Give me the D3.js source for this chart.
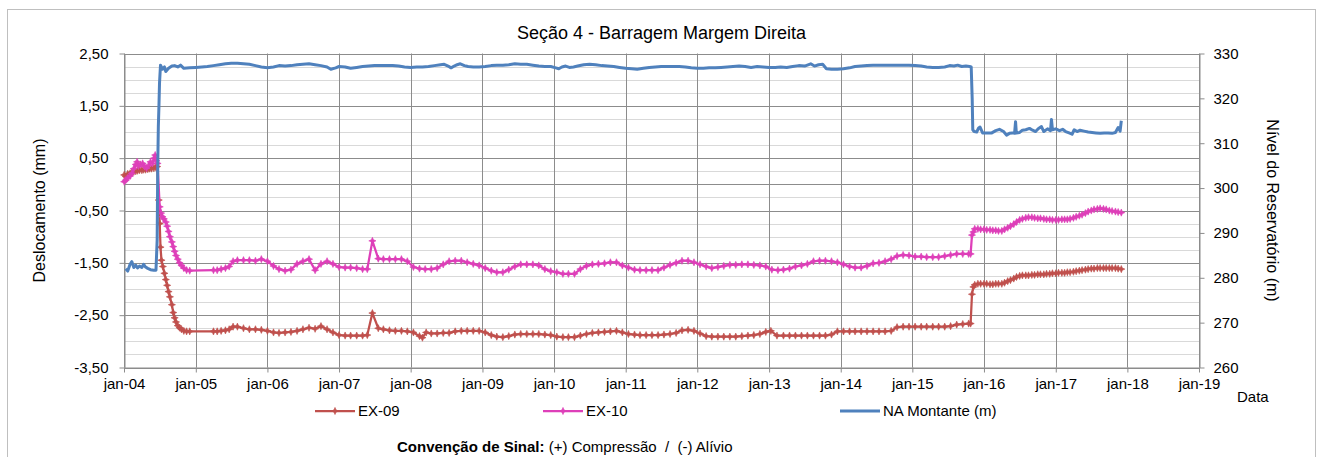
<!DOCTYPE html>
<html>
<head>
<meta charset="utf-8">
<script src="https://cdn.jsdelivr.net/npm/d3@7"></script>
<style>
  html, body { margin: 0; padding: 0; background: #fff; }
  svg { display: block; font-family: "Liberation Sans", Arial, sans-serif; }
</style>
</head>
<body>
<svg id="chart" width="1319" height="457"></svg>
<script>
// ---- Data -------------------------------------------------------------
// Extensometer EX-09 readings (mm)
const ex09 = [
  ["2004-01-02",0.18],["2004-01-10",0.15],["2004-01-20",0.20],["2004-02-01",0.21],["2004-02-10",0.23],
  ["2004-02-20",0.24],["2004-03-01",0.25],["2004-03-10",0.26],["2004-03-20",0.27],["2004-04-01",0.27],
  ["2004-04-10",0.28],["2004-04-20",0.28],["2004-05-01",0.29],["2004-05-10",0.30],["2004-05-20",0.30],
  ["2004-06-01",0.31],["2004-06-10",0.33],["2004-06-18",0.34],["2004-06-26",-0.30],["2004-07-01",-0.75],
  ["2004-07-05",-1.20],["2004-07-10",-1.45],["2004-07-17",-1.57],["2004-07-25",-1.70],["2004-08-01",-1.82],
  ["2004-08-08",-1.93],["2004-08-15",-2.05],["2004-08-22",-2.15],["2004-09-01",-2.30],["2004-09-08",-2.45],
  ["2004-09-15",-2.55],["2004-09-22",-2.63],["2004-10-01",-2.70],["2004-10-10",-2.74],["2004-10-20",-2.77],
  ["2004-11-01",-2.80],["2004-11-15",-2.81],["2004-12-01",-2.81],
  ["2005-04-01",-2.81],["2005-04-20",-2.81],["2005-05-10",-2.80],["2005-06-01",-2.79],["2005-06-20",-2.77],
  ["2005-07-10",-2.72],["2005-08-01",-2.72],["2005-09-01",-2.75],["2005-10-01",-2.77],["2005-11-01",-2.77],
  ["2005-12-01",-2.78],["2006-01-01",-2.80],["2006-02-01",-2.83],["2006-03-01",-2.84],["2006-04-01",-2.83],
  ["2006-05-01",-2.82],["2006-06-01",-2.80],["2006-07-01",-2.77],["2006-08-01",-2.74],["2006-09-01",-2.76],
  ["2006-10-01",-2.71],["2006-11-01",-2.77],["2006-12-01",-2.83],["2007-01-01",-2.88],["2007-02-01",-2.89],
  ["2007-03-01",-2.89],["2007-04-01",-2.89],["2007-05-01",-2.89],["2007-05-25",-2.88],["2007-06-20",-2.46],
  ["2007-07-20",-2.75],["2007-08-15",-2.77],["2007-09-15",-2.79],["2007-10-15",-2.80],["2007-11-15",-2.80],
  ["2007-12-15",-2.81],["2008-01-15",-2.83],["2008-02-15",-2.90],["2008-03-01",-2.93],["2008-03-20",-2.83],
  ["2008-04-15",-2.85],["2008-05-15",-2.85],["2008-06-15",-2.84],["2008-07-15",-2.84],["2008-08-15",-2.81],
  ["2008-09-15",-2.80],["2008-10-15",-2.80],["2008-11-15",-2.80],["2008-12-15",-2.80],["2009-01-15",-2.83],
  ["2009-02-15",-2.88],["2009-03-15",-2.91],["2009-04-15",-2.92],["2009-05-15",-2.90],["2009-06-15",-2.87],
  ["2009-07-15",-2.86],["2009-08-15",-2.86],["2009-09-15",-2.86],["2009-10-15",-2.86],["2009-11-15",-2.87],
  ["2009-12-15",-2.88],["2010-01-15",-2.91],["2010-02-15",-2.92],["2010-03-15",-2.92],["2010-04-15",-2.92],
  ["2010-05-15",-2.89],["2010-06-15",-2.86],["2010-07-15",-2.84],["2010-08-15",-2.83],["2010-09-15",-2.82],
  ["2010-10-15",-2.81],["2010-11-15",-2.80],["2010-12-15",-2.83],["2011-01-15",-2.86],["2011-02-15",-2.87],
  ["2011-03-15",-2.88],["2011-04-15",-2.88],["2011-05-15",-2.88],["2011-06-15",-2.88],["2011-07-15",-2.87],
  ["2011-08-15",-2.86],["2011-09-15",-2.84],["2011-10-15",-2.79],["2011-11-15",-2.78],["2011-12-15",-2.80],
  ["2012-01-15",-2.85],["2012-02-15",-2.90],["2012-03-15",-2.91],["2012-04-15",-2.91],["2012-05-15",-2.91],
  ["2012-06-15",-2.91],["2012-07-15",-2.91],["2012-08-15",-2.90],["2012-09-15",-2.89],["2012-10-15",-2.88],
  ["2012-11-15",-2.86],["2012-12-15",-2.82],["2013-01-10",-2.80],["2013-02-10",-2.89],["2013-03-15",-2.89],
  ["2013-04-15",-2.89],["2013-05-15",-2.89],["2013-06-15",-2.89],["2013-07-15",-2.89],["2013-08-15",-2.89],
  ["2013-09-15",-2.89],["2013-10-15",-2.89],["2013-11-15",-2.87],["2013-12-15",-2.81],["2014-01-15",-2.81],
  ["2014-02-15",-2.81],["2014-03-15",-2.81],["2014-04-15",-2.81],["2014-05-15",-2.81],["2014-06-15",-2.81],
  ["2014-07-15",-2.81],["2014-08-15",-2.81],["2014-09-15",-2.80],["2014-10-15",-2.73],["2014-11-15",-2.72],
  ["2014-12-15",-2.72],["2015-01-15",-2.72],["2015-02-15",-2.72],["2015-03-15",-2.72],["2015-04-15",-2.72],
  ["2015-05-15",-2.72],["2015-06-15",-2.72],["2015-07-15",-2.71],["2015-08-15",-2.68],["2015-09-15",-2.67],
  ["2015-10-15",-2.66],["2015-10-25",-2.66],["2015-11-01",-2.10],["2015-11-08",-1.96],["2015-11-15",-1.92],
  ["2015-12-01",-1.90],["2015-12-15",-1.90],["2016-01-01",-1.90],["2016-01-15",-1.90],["2016-02-01",-1.91],
  ["2016-02-15",-1.91],["2016-03-01",-1.90],["2016-03-15",-1.90],["2016-04-01",-1.90],["2016-04-15",-1.88],
  ["2016-05-01",-1.85],["2016-05-15",-1.83],["2016-06-01",-1.80],["2016-06-15",-1.77],["2016-07-01",-1.75],
  ["2016-07-15",-1.74],["2016-08-01",-1.74],["2016-08-15",-1.74],["2016-09-01",-1.73],["2016-09-15",-1.73],
  ["2016-10-01",-1.72],["2016-10-15",-1.72],["2016-11-01",-1.72],["2016-11-15",-1.71],["2016-12-01",-1.71],
  ["2016-12-15",-1.70],["2017-01-01",-1.70],["2017-01-15",-1.69],["2017-02-01",-1.69],["2017-02-15",-1.69],
  ["2017-03-01",-1.68],["2017-03-15",-1.68],["2017-04-01",-1.67],["2017-04-15",-1.66],["2017-05-01",-1.65],
  ["2017-05-15",-1.64],["2017-06-01",-1.63],["2017-06-15",-1.62],["2017-07-01",-1.61],["2017-07-15",-1.61],
  ["2017-08-01",-1.60],["2017-08-15",-1.60],["2017-09-01",-1.60],["2017-09-15",-1.60],["2017-10-01",-1.60],
  ["2017-10-15",-1.60],["2017-11-01",-1.60],["2017-11-15",-1.61],["2017-12-01",-1.62]
];

// Extensometer EX-10 readings (mm)
const ex10 = [
  ["2004-01-02",0.05],["2004-01-10",0.08],["2004-01-20",0.12],["2004-02-01",0.16],["2004-02-10",0.21],
  ["2004-02-20",0.30],["2004-03-01",0.38],["2004-03-08",0.43],["2004-03-15",0.35],["2004-03-25",0.38],
  ["2004-04-05",0.40],["2004-04-15",0.34],["2004-04-25",0.31],["2004-05-05",0.36],["2004-05-15",0.43],
  ["2004-05-25",0.40],["2004-06-02",0.50],["2004-06-08",0.56],["2004-06-14",0.45],["2004-06-20",0.40],
  ["2004-07-01",-0.43],["2004-07-08",-0.55],["2004-07-15",-0.62],["2004-07-22",-0.66],["2004-08-01",-0.72],
  ["2004-08-08",-0.80],["2004-08-15",-0.90],["2004-08-22",-1.00],["2004-09-01",-1.10],["2004-09-08",-1.19],
  ["2004-09-15",-1.28],["2004-09-22",-1.36],["2004-10-01",-1.43],["2004-10-10",-1.50],["2004-10-20",-1.55],
  ["2004-11-01",-1.60],["2004-11-15",-1.64],["2004-12-01",-1.65],
  ["2005-04-01",-1.64],["2005-04-20",-1.64],["2005-05-10",-1.62],["2005-06-01",-1.60],["2005-06-20",-1.57],
  ["2005-07-10",-1.47],["2005-08-01",-1.45],["2005-09-01",-1.45],["2005-10-01",-1.45],["2005-11-01",-1.46],
  ["2005-12-01",-1.43],["2006-01-01",-1.47],["2006-02-01",-1.56],["2006-03-01",-1.62],["2006-04-01",-1.65],
  ["2006-05-01",-1.63],["2006-06-01",-1.52],["2006-07-01",-1.47],["2006-08-01",-1.43],["2006-09-01",-1.64],
  ["2006-10-01",-1.52],["2006-11-01",-1.47],["2006-12-01",-1.52],["2007-01-01",-1.58],["2007-02-01",-1.59],
  ["2007-03-01",-1.59],["2007-04-01",-1.60],["2007-05-01",-1.62],["2007-05-25",-1.62],["2007-06-20",-1.08],
  ["2007-07-20",-1.42],["2007-08-15",-1.43],["2007-09-15",-1.43],["2007-10-15",-1.43],["2007-11-15",-1.43],
  ["2007-12-15",-1.47],["2008-01-15",-1.58],["2008-02-15",-1.61],["2008-03-15",-1.62],["2008-04-15",-1.62],
  ["2008-05-15",-1.60],["2008-06-15",-1.53],["2008-07-15",-1.47],["2008-08-15",-1.46],["2008-09-15",-1.46],
  ["2008-10-15",-1.49],["2008-11-15",-1.52],["2008-12-15",-1.55],["2009-01-15",-1.60],["2009-02-15",-1.65],
  ["2009-03-15",-1.68],["2009-04-15",-1.68],["2009-05-15",-1.63],["2009-06-15",-1.57],["2009-07-15",-1.53],
  ["2009-08-15",-1.53],["2009-09-15",-1.53],["2009-10-15",-1.55],["2009-11-15",-1.62],["2009-12-15",-1.66],
  ["2010-01-15",-1.68],["2010-02-15",-1.71],["2010-03-15",-1.71],["2010-04-15",-1.71],["2010-05-15",-1.62],
  ["2010-06-15",-1.56],["2010-07-15",-1.53],["2010-08-15",-1.52],["2010-09-15",-1.51],["2010-10-15",-1.49],
  ["2010-11-15",-1.49],["2010-12-15",-1.55],["2011-01-15",-1.59],["2011-02-15",-1.63],["2011-03-15",-1.64],
  ["2011-04-15",-1.64],["2011-05-15",-1.64],["2011-06-15",-1.64],["2011-07-15",-1.59],["2011-08-15",-1.54],
  ["2011-09-15",-1.50],["2011-10-15",-1.46],["2011-11-15",-1.46],["2011-12-15",-1.49],["2012-01-15",-1.53],
  ["2012-02-15",-1.57],["2012-03-15",-1.60],["2012-04-15",-1.58],["2012-05-15",-1.56],["2012-06-15",-1.54],
  ["2012-07-15",-1.54],["2012-08-15",-1.53],["2012-09-15",-1.53],["2012-10-15",-1.54],["2012-11-15",-1.55],
  ["2012-12-15",-1.57],["2013-01-15",-1.63],["2013-02-15",-1.64],["2013-03-15",-1.63],["2013-04-15",-1.61],
  ["2013-05-15",-1.57],["2013-06-15",-1.55],["2013-07-15",-1.52],["2013-08-15",-1.47],["2013-09-15",-1.46],
  ["2013-10-15",-1.46],["2013-11-15",-1.47],["2013-12-15",-1.49],["2014-01-15",-1.53],["2014-02-15",-1.57],
  ["2014-03-15",-1.59],["2014-04-15",-1.59],["2014-05-15",-1.56],["2014-06-15",-1.51],["2014-07-15",-1.50],
  ["2014-08-15",-1.47],["2014-09-15",-1.43],["2014-10-15",-1.37],["2014-11-15",-1.35],["2014-12-15",-1.36],
  ["2015-01-15",-1.38],["2015-02-15",-1.38],["2015-03-15",-1.39],["2015-04-15",-1.39],["2015-05-15",-1.39],
  ["2015-06-15",-1.37],["2015-07-15",-1.35],["2015-08-15",-1.33],["2015-09-15",-1.33],["2015-10-15",-1.33],
  ["2015-10-25",-1.33],["2015-11-01",-0.97],["2015-11-08",-0.91],["2015-11-15",-0.85],["2015-12-01",-0.85],
  ["2015-12-15",-0.86],["2016-01-01",-0.86],["2016-01-15",-0.87],["2016-02-01",-0.87],["2016-02-15",-0.88],
  ["2016-03-01",-0.88],["2016-03-15",-0.89],["2016-04-01",-0.89],["2016-04-15",-0.86],["2016-05-01",-0.83],
  ["2016-05-15",-0.80],["2016-06-01",-0.76],["2016-06-15",-0.72],["2016-07-01",-0.68],["2016-07-15",-0.66],
  ["2016-08-01",-0.64],["2016-08-15",-0.63],["2016-09-01",-0.63],["2016-09-15",-0.64],["2016-10-01",-0.65],
  ["2016-10-15",-0.65],["2016-11-01",-0.66],["2016-11-15",-0.67],["2016-12-01",-0.67],["2016-12-15",-0.68],
  ["2017-01-01",-0.68],["2017-01-15",-0.68],["2017-02-01",-0.67],["2017-02-15",-0.67],["2017-03-01",-0.67],
  ["2017-03-15",-0.66],["2017-04-01",-0.64],["2017-04-15",-0.62],["2017-05-01",-0.60],["2017-05-15",-0.58],
  ["2017-06-01",-0.55],["2017-06-15",-0.52],["2017-07-01",-0.50],["2017-07-15",-0.48],["2017-08-01",-0.47],
  ["2017-08-15",-0.46],["2017-09-01",-0.47],["2017-09-15",-0.48],["2017-10-01",-0.50],["2017-10-15",-0.51],
  ["2017-11-01",-0.52],["2017-11-15",-0.53],["2017-12-01",-0.54]
];

// Upstream reservoir level, NA Montante (m)
const naMontante = [
  ["2004-01-10",282.0],["2004-01-20",281.5],["2004-02-01",283.0],["2004-02-10",283.6],["2004-02-20",282.3],
  ["2004-03-01",282.8],["2004-03-10",282.2],["2004-03-20",282.6],["2004-04-01",282.3],["2004-04-10",283.0],
  ["2004-04-20",282.4],["2004-05-01",282.1],["2004-05-15",281.8],["2004-06-01",281.7],["2004-06-12",281.7],
  ["2004-06-18",288.4],["2004-06-21",304.8],["2004-06-24",313.7],["2004-06-27",318.1],["2004-06-30",323.4],
  ["2004-07-05",327.4],["2004-07-15",326.5],["2004-07-25",327.0],["2004-08-01",326.0],["2004-08-15",326.7],
  ["2004-09-01",327.2],["2004-09-15",327.3],["2004-10-01",327.0],["2004-10-15",327.4],["2004-11-01",326.7],
  ["2004-12-01",326.8],["2005-01-01",326.9],["2005-02-01",327.0],["2005-03-01",327.1],["2005-04-01",327.3],
  ["2005-05-01",327.5],["2005-06-01",327.7],["2005-07-01",327.8],["2005-08-01",327.8],["2005-09-01",327.7],
  ["2005-10-01",327.6],["2005-11-01",327.3],["2005-12-01",327.0],["2006-01-01",326.8],["2006-02-01",327.0],
  ["2006-03-01",327.3],["2006-04-01",327.2],["2006-05-01",327.3],["2006-06-01",327.5],["2006-07-01",327.6],
  ["2006-08-01",327.7],["2006-09-01",327.5],["2006-10-01",327.3],["2006-11-01",327.0],["2006-11-20",326.5],
  ["2006-12-15",326.8],["2007-01-01",327.1],["2007-02-01",327.0],["2007-03-01",326.7],["2007-04-01",326.9],
  ["2007-05-01",327.1],["2007-06-01",327.2],["2007-07-01",327.3],["2007-08-01",327.3],["2007-09-01",327.3],
  ["2007-10-01",327.3],["2007-11-01",327.2],["2007-12-01",327.0],["2008-01-01",326.9],["2008-02-01",327.0],
  ["2008-03-01",327.0],["2008-04-01",327.1],["2008-05-01",327.3],["2008-06-01",327.5],["2008-06-20",327.6],
  ["2008-07-10",327.2],["2008-07-25",326.8],["2008-08-10",327.2],["2008-08-25",327.5],["2008-09-10",327.7],
  ["2008-10-01",327.3],["2008-10-20",327.1],["2008-11-15",327.0],["2008-12-15",327.0],["2009-01-15",327.1],
  ["2009-02-15",327.3],["2009-03-15",327.4],["2009-04-15",327.4],["2009-05-15",327.5],["2009-06-15",327.7],
  ["2009-07-15",327.6],["2009-08-15",327.6],["2009-09-15",327.4],["2009-10-15",327.2],["2009-11-15",327.1],
  ["2009-12-15",327.1],["2010-01-10",326.8],["2010-01-25",326.6],["2010-02-10",327.0],["2010-03-01",327.2],
  ["2010-03-20",326.9],["2010-04-10",327.0],["2010-05-01",327.2],["2010-06-01",327.5],["2010-07-01",327.6],
  ["2010-08-01",327.5],["2010-09-01",327.3],["2010-10-01",327.2],["2010-11-01",327.1],["2010-12-01",326.9],
  ["2011-01-01",326.7],["2011-02-01",326.6],["2011-03-01",326.5],["2011-04-01",326.7],["2011-05-01",326.9],
  ["2011-06-01",327.0],["2011-07-01",327.1],["2011-08-01",327.1],["2011-09-01",327.1],["2011-10-01",327.1],
  ["2011-11-01",327.0],["2011-12-01",326.8],["2012-01-01",326.7],["2012-02-01",326.7],["2012-03-01",326.8],
  ["2012-04-01",326.8],["2012-05-01",326.9],["2012-06-01",327.0],["2012-07-01",327.1],["2012-08-01",327.2],
  ["2012-09-01",327.1],["2012-10-01",326.9],["2012-11-01",327.1],["2012-12-01",327.0],["2013-01-01",326.9],
  ["2013-02-01",326.9],["2013-03-01",327.0],["2013-04-01",326.9],["2013-05-01",327.1],["2013-06-01",327.3],
  ["2013-07-01",327.2],["2013-08-01",327.7],["2013-08-20",327.2],["2013-09-10",327.5],["2013-10-01",327.6],
  ["2013-10-20",326.6],["2013-11-15",326.5],["2013-12-15",326.5],["2014-01-15",326.6],["2014-02-15",326.8],
  ["2014-03-15",327.1],["2014-04-15",327.2],["2014-05-15",327.3],["2014-06-15",327.4],["2014-07-15",327.4],
  ["2014-08-15",327.4],["2014-09-15",327.4],["2014-10-15",327.4],["2014-11-15",327.4],["2014-12-15",327.4],
  ["2015-01-15",327.3],["2015-02-15",327.2],["2015-03-15",327.0],["2015-04-15",326.9],["2015-05-15",326.9],
  ["2015-06-15",327.0],["2015-07-10",327.3],["2015-08-01",327.2],["2015-08-20",327.4],["2015-09-10",327.1],
  ["2015-10-01",327.2],["2015-10-20",327.1],["2015-10-28",327.0],["2015-11-02",320.0],["2015-11-05",313.0],
  ["2015-11-12",312.6],["2015-11-25",312.5],["2015-12-05",313.4],["2015-12-12",313.6],["2015-12-25",312.3],
  ["2016-01-15",312.3],["2016-02-10",312.3],["2016-03-01",312.8],["2016-03-20",313.1],["2016-04-10",312.6],
  ["2016-04-25",311.8],["2016-05-10",312.2],["2016-05-25",312.3],["2016-06-05",312.2],["2016-06-10",314.8],
  ["2016-06-14",312.3],["2016-07-01",312.4],["2016-07-15",312.9],["2016-08-01",313.0],["2016-08-20",313.3],
  ["2016-09-05",312.9],["2016-09-20",312.6],["2016-10-05",313.3],["2016-10-20",313.7],["2016-11-01",312.6],
  ["2016-11-20",313.2],["2016-12-05",312.8],["2016-12-10",315.3],["2016-12-15",313.0],["2017-01-01",313.2],
  ["2017-01-20",312.8],["2017-02-05",313.1],["2017-02-20",312.6],["2017-03-10",312.3],["2017-03-25",312.0],
  ["2017-04-05",313.0],["2017-04-20",312.6],["2017-05-05",312.9],["2017-05-25",312.7],["2017-06-15",312.5],
  ["2017-07-05",312.4],["2017-07-25",312.3],["2017-08-15",312.2],["2017-09-05",312.3],["2017-09-25",312.3],
  ["2017-10-15",312.2],["2017-11-01",312.4],["2017-11-15",313.5],["2017-11-25",312.7],["2017-12-01",315.0]
];

// Axis ticks
const leftTicks  = [2.5, 1.5, 0.5, -0.5, -1.5, -2.5, -3.5];
const rightTicks = [330, 320, 310, 300, 290, 280, 270, 260];
const yearTicks  = ["2004","2005","2006","2007","2008","2009","2010","2011","2012","2013","2014","2015","2016","2017","2018","2019"];

// Series definitions
const seriesNames  = ["EX-09", "EX-10", "NA Montante (m)"];
const seriesColors = ["#C0504D", "#DE3FB9", "#4F81BD"];

// ---- Drawing ----------------------------------------------------------
const parse = d3.utcParse("%Y-%m-%d");
const toPts = arr => arr.map(([d, v]) => ({ date: parse(d), v }));
const s09 = toPts(ex09), s10 = toPts(ex10), sNA = toPts(naMontante);

const svg = d3.select("#chart");
const L = 124, R = 1199, T = 53.5, B = 367.5;

const x  = d3.scaleUtc().domain([parse("2004-01-01"), parse("2019-01-01")]).range([L, R]);
const yL = d3.scaleLinear().domain([-3.5, 2.5]).range([B, T]);
const yR = d3.scaleLinear().domain([260, 330]).range([B, T]);

const ptBR = d3.formatLocale({ decimal: ",", thousands: ".", grouping: [3], currency: ["R$", ""], minus: "-" });
const fmtL = ptBR.format(".2f");

const gridMajor = "#8c8c8c", gridMinor = "#d9d9d9", axisCol = "#8c8c8c";

// outer chart border
svg.append("rect").attr("x", 7.5).attr("y", 9.5).attr("width", 1308).attr("height", 470)
  .attr("fill", "#fff").attr("stroke", "#bfbfbf").attr("stroke-width", 1);

// minor horizontal gridlines (every 0.25 mm)
const minorVals = d3.range(-3.5, 2.5001, 0.25);
svg.append("g").selectAll("line").data(minorVals).join("line")
  .attr("x1", L).attr("x2", R)
  .attr("y1", d => Math.round(yL(d)) + 0.5).attr("y2", d => Math.round(yL(d)) + 0.5)
  .attr("stroke", gridMinor).attr("stroke-width", 1);

// vertical gridlines at each January
const yearDates = yearTicks.map(y => parse(y + "-01-01"));
svg.append("g").selectAll("line").data(yearDates).join("line")
  .attr("x1", d => Math.round(x(d)) + 0.5).attr("x2", d => Math.round(x(d)) + 0.5)
  .attr("y1", T).attr("y2", B)
  .attr("stroke", gridMajor).attr("stroke-width", 1);

// major horizontal gridlines + zero line
svg.append("g").selectAll("line").data(leftTicks.concat([0])).join("line")
  .attr("x1", L).attr("x2", R)
  .attr("y1", d => Math.round(yL(d)) + 0.5).attr("y2", d => Math.round(yL(d)) + 0.5)
  .attr("stroke", gridMajor).attr("stroke-width", 1);

// axes
function styleAxis(g) {
  g.selectAll("path.domain").attr("stroke", axisCol);
  g.selectAll(".tick line").attr("stroke", axisCol);
  g.selectAll("text").attr("fill", "#000").style("font-size", "15px")
    .style("font-family", '"Liberation Sans", Arial, sans-serif');
}

svg.append("g").attr("transform", `translate(${L + 0.5},0)`)
  .call(d3.axisLeft(yL).tickValues(leftTicks).tickFormat(fmtL).tickSize(5).tickSizeOuter(0).tickPadding(11))
  .call(styleAxis);

svg.append("g").attr("transform", `translate(${R + 0.5},0)`)
  .call(d3.axisRight(yR).tickValues(rightTicks).tickFormat(d3.format("d")).tickSize(5).tickSizeOuter(0).tickPadding(9))
  .call(styleAxis);

svg.append("g").attr("transform", `translate(0,${B})`)
  .call(d3.axisBottom(x).tickValues(yearDates).tickFormat(d => "jan-" + d3.utcFormat("%y")(d))
    .tickSize(5).tickSizeOuter(0).tickPadding(6))
  .call(styleAxis);

// series lines
const lineL = d3.line().x(d => x(d.date)).y(d => yL(d.v));
const lineR = d3.line().x(d => x(d.date)).y(d => yR(d.v));
// four-pointed star marker
const markerPath = "M0,-3.6L1.1,-1.1L3.6,0L1.1,1.1L0,3.6L-1.1,1.1L-3.6,0L-1.1,-1.1Z";

function drawMarked(data, color) {
  const g = svg.append("g");
  g.append("path").datum(data).attr("d", lineL)
    .attr("fill", "none").attr("stroke", color).attr("stroke-width", 2.25).attr("stroke-linejoin", "round");
  g.selectAll("path.mk").data(data).join("path").attr("class", "mk")
    .attr("transform", d => `translate(${x(d.date)},${yL(d.v)})`)
    .attr("d", markerPath).attr("fill", color).attr("stroke", color).attr("stroke-width", 0.6);
}
drawMarked(s09, seriesColors[0]);
drawMarked(s10, seriesColors[1]);

svg.append("path").datum(sNA).attr("d", lineR)
  .attr("fill", "none").attr("stroke", seriesColors[2]).attr("stroke-width", 3).attr("stroke-linejoin", "round");

// titles
svg.append("text").attr("x", (L + R) / 2).attr("y", 39).attr("text-anchor", "middle")
  .style("font-size", "18px").text("Seção 4 - Barragem Margem Direita");

svg.append("text").attr("transform", `translate(45,${(T + B) / 2}) rotate(-90)`)
  .attr("text-anchor", "middle").style("font-size", "16px").text("Deslocamento (mm)");

svg.append("text").attr("transform", `translate(1267,${(T + B) / 2}) rotate(90)`)
  .attr("text-anchor", "middle").style("font-size", "16px").text("Nível do Reservatório (m)");

svg.append("text").attr("x", 1237).attr("y", 402).style("font-size", "15px").text("Data");

// legend
const legendX = [315, 543, 840];
const lg = svg.append("g");
seriesNames.forEach((name, i) => {
  const lx = legendX[i], ly = 411;
  lg.append("line").attr("x1", lx).attr("x2", lx + 40).attr("y1", ly).attr("y2", ly)
    .attr("stroke", seriesColors[i]).attr("stroke-width", i === 2 ? 3 : 2.25);
  if (i < 2) {
    lg.append("path").attr("transform", `translate(${lx + 20},${ly})`).attr("d", markerPath)
      .attr("fill", seriesColors[i]).attr("stroke", seriesColors[i]).attr("stroke-width", 0.6);
  }
  lg.append("text").attr("x", lx + 43).attr("y", ly + 5).style("font-size", "15px").text(name);
});

// sign convention note
const note = svg.append("text").attr("x", 397).attr("y", 452).style("font-size", "15px")
  .attr("xml:space", "preserve").style("white-space", "pre");
note.append("tspan").style("font-weight", "bold").text("Convenção de Sinal:");
note.append("tspan").text(" (+) Compressão  /  (-) Alívio");
</script>
</body>
</html>
